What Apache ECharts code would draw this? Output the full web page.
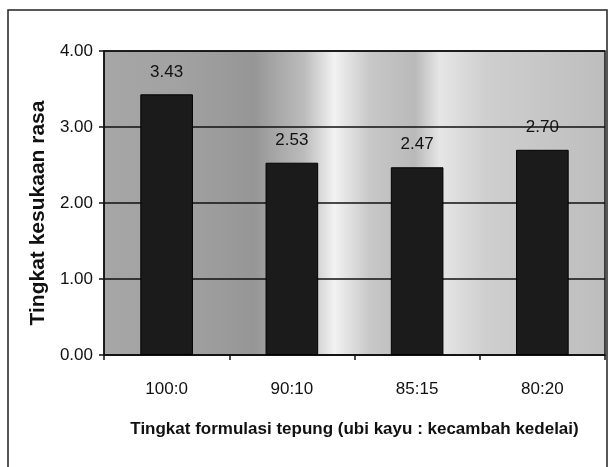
<!DOCTYPE html>
<html>
<head>
<meta charset="utf-8">
<script src="https://cdn.jsdelivr.net/npm/echarts@6/dist/echarts.min.js"></script>
<style>
  html, body { margin: 0; padding: 0; background: #fff; }
  #chart { width: 609px; height: 467px; }
</style>
</head>
<body>
<div id="chart"></div>
<script>
const categories = ["100:0", "90:10", "85:15", "80:20"];
const rasaValues = [3.43, 2.53, 2.47, 2.70];
const yTicks = [0, 1, 2, 3, 4];

const FONT = "'Liberation Sans', Arial, sans-serif";

const chart = echarts.init(document.getElementById("chart"), null, { renderer: "canvas" });

// grey scanned-looking background of the plot area
const plotBg = new echarts.graphic.LinearGradient(0, 0, 1, 0, [
  { offset: 0.00, color: "#a6a6a6" },
  { offset: 0.15, color: "#a2a2a2" },
  { offset: 0.30, color: "#969696" },
  { offset: 0.40, color: "#bcbcbc" },
  { offset: 0.46, color: "#f2f2f2" },
  { offset: 0.53, color: "#c8c8c8" },
  { offset: 0.62, color: "#b9b9b9" },
  { offset: 0.67, color: "#e6e6e6" },
  { offset: 0.76, color: "#cfcfcf" },
  { offset: 1.00, color: "#bdbdbd" }
]);

const option = {
  animation: false,
  backgroundColor: "#fff",
  textStyle: { fontFamily: FONT },
  graphic: [{
    type: "rect",
    shape: { x: 8, y: 10, width: 599, height: 470 },
    style: { fill: "none", stroke: "#222", lineWidth: 1.5 },
    silent: true
  }],
  grid: {
    left: 104,
    right: 4,
    top: 51,
    bottom: 112,
    outerBoundsMode: "none",
    show: true,
    backgroundColor: plotBg,
    borderColor: "#111",
    borderWidth: 1.5
  },
  xAxis: {
    type: "category",
    data: categories,
    name: "Tingkat formulasi tepung (ubi kayu : kecambah kedelai)",
    nameLocation: "middle",
    nameGap: 66,
    nameTextStyle: { fontFamily: FONT, fontSize: 17, fontWeight: "bold", color: "#111" },
    axisLine: { lineStyle: { color: "#111", width: 1.5 } },
    axisTick: { show: true, length: 5, lineStyle: { color: "#111", width: 1.5 } },
    axisLabel: { fontFamily: FONT, fontSize: 17, color: "#111", margin: 26 }
  },
  yAxis: {
    type: "value",
    min: yTicks[0],
    max: yTicks[yTicks.length - 1],
    interval: 1,
    name: "Tingkat kesukaan rasa",
    nameLocation: "middle",
    nameGap: 48,
    nameTextStyle: {
      fontFamily: FONT, fontSize: 21, fontWeight: "bold", color: "#111",
      padding: [0, 20, 0, 0]
    },
    axisLine: { show: true, lineStyle: { color: "#111", width: 1.5 } },
    axisTick: { show: true, length: 5, lineStyle: { color: "#111", width: 1.5 } },
    axisLabel: {
      fontFamily: FONT, fontSize: 17, color: "#111", margin: 11,
      formatter: v => v.toFixed(2)
    },
    splitLine: { show: true, lineStyle: { color: "#111", width: 1.5 } }
  },
  series: [{
    name: "Tingkat kesukaan rasa",
    type: "bar",
    data: rasaValues,
    barWidth: "42%",
    itemStyle: { color: "#1b1b1b", borderColor: "#000", borderWidth: 1 },
    label: {
      show: true,
      position: "top",
      distance: 14,
      fontFamily: FONT,
      fontSize: 17,
      color: "#111",
      formatter: p => p.value.toFixed(2)
    }
  }]
};

chart.setOption(option);
</script>
</body>
</html>
